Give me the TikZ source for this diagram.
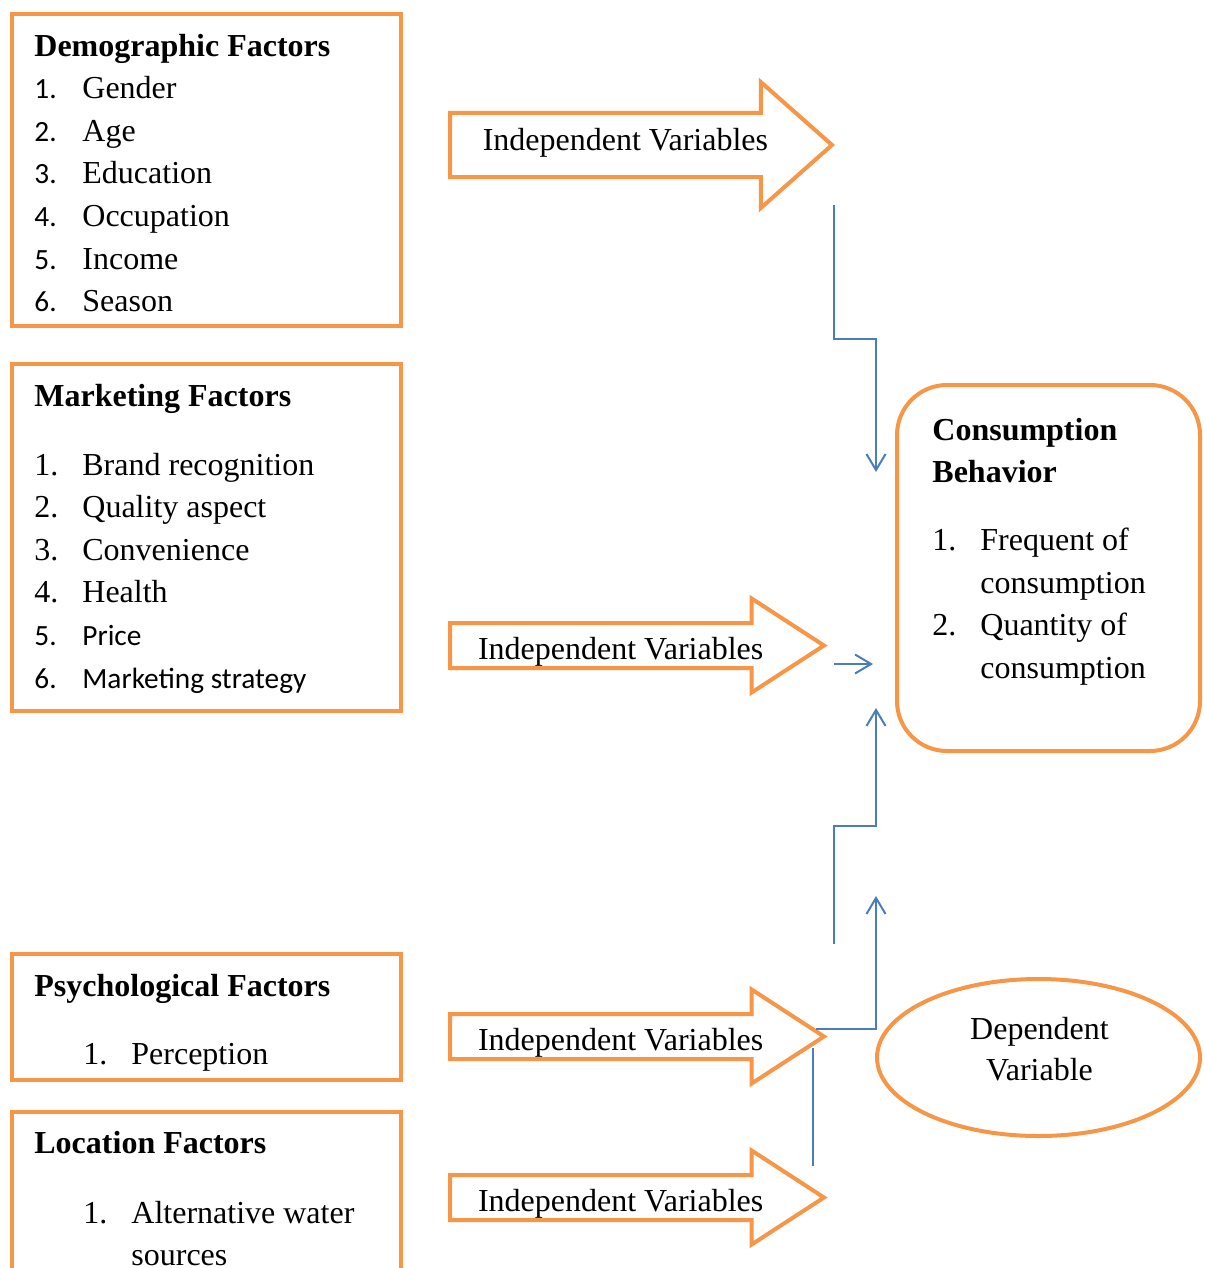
\documentclass[tikz,border=0pt]{standalone}
\usepackage{fontspec}
\setmainfont{Liberation Serif}
\newfontfamily\calibrifont{Carlito}
\usetikzlibrary{arrows.meta,
							calc,
							positioning,
							shapes.geometric,
							shapes.arrows}
\definecolor{boxline}{HTML}{F79646}
\definecolor{linkline}{HTML}{4A7EBB}
\newcommand\numsf[1]{\makebox[24pt][l]{\calibrifont\fontsize{14.67pt}{21.3pt}\selectfont #1}}
\newcommand\numrm[1]{\makebox[24pt][l]{#1}}
\newcommand\txtsf[1]{{\calibrifont\fontsize{14.67pt}{21.3pt}\selectfont #1}}

\begin{document}
\begin{tikzpicture}[x=0.5pt, y=-0.5pt,
		base/.style = {draw=boxline, line width=2pt, outer sep=0pt, inner sep=0pt},
	 factor/.style = {base, rectangle, minimum width=194.5pt, anchor=north west},
	outcome/.style = {base, rectangle, rounded corners=25pt, minimum width=151.5pt,
									 minimum height=183pt, anchor=north west},
	 depvar/.style = {base, ellipse, minimum width=161.5pt, minimum height=78.5pt},
		ivbig/.style = {base, single arrow, anchor=tip, minimum height=191pt,
									 inner ysep=15pt, single arrow head extend=15.5pt,
									 single arrow tip angle=83},
	ivsmall/.style = {base, single arrow, anchor=tip, minimum height=187pt,
									 inner ysep=10.25pt, single arrow head extend=12.25pt,
									 single arrow tip angle=66},
	 ivtext/.style = {font=\fontsize{16pt}{19pt}\selectfont},
	 dvtext/.style = {align=center, font=\fontsize{16pt}{20.5pt}\selectfont},
			txt/.style = {inner sep=0pt, align=left, font=\fontsize{16pt}{21.3pt}\selectfont},
		 link/.style = {draw=linkline, line width=1pt},
		 tip/.style = {-{Straight Barb[length=8pt,width=9.5pt]}}]

\useasboundingbox (0,0) rectangle (1204,1268);

%% factor boxes
\node [factor, minimum height=156pt]   (dem) at (12,14)   {};      % <-- demographic
\node [txt, below right=9.7pt and 11pt of dem.north west] (dem-txt)
	{\textbf{Demographic Factors}\\
	 \numsf{1.}Gender\\
	 \numsf{2.}Age\\
	 \numsf{3.}Education\\
	 \numsf{4.}Occupation\\
	 \numsf{5.}Income\\
	 \numsf{6.}Season};

\node [factor, minimum height=173.5pt] (mkt) at (12,364)  {};      % <-- marketing
\node [txt, below right=9.7pt and 11pt of mkt.north west] (mkt-txt)
	{\textbf{Marketing Factors}\\[13.2pt]
	 \numrm{1.}Brand recognition\\
	 \numrm{2.}Quality aspect\\
	 \numrm{3.}Convenience\\
	 \numrm{4.}Health\\
	 \numsf{5.}\txtsf{Price}\\
	 \numsf{6.}\txtsf{Marketing strategy}};

\node [factor, minimum height=63pt]    (psy) at (12,954)  {};      % <-- psychological
\node [txt, below right=9.7pt and 11pt of psy.north west] (psy-txt)
	{\textbf{Psychological Factors}\\[13pt]
	 \hspace*{24.5pt}\numrm{1.}Perception};

\node [factor, minimum height=90pt]    (loc) at (12,1112) {};      % <-- location
\node [txt, below right=9.5pt and 11pt of loc.north west] (loc-txt)
	{\textbf{Location Factors}\\[13.5pt]
	 \hspace*{24.5pt}\numrm{1.}Alternative water\\
	 \hspace*{48.5pt}sources};

%% independent variable arrows
\node [ivbig, label={[ivtext, xshift=1.25pt, yshift=1.2pt]center:Independent Variables}]
	(iv-1) at (832,145) {};
\node [ivsmall, label={[ivtext, xshift=0.5pt, yshift=-3pt]center:Independent Variables}]
	(iv-2) at (824,645.5) {};
\node [ivsmall, label={[ivtext, xshift=0.5pt, yshift=-3pt]center:Independent Variables}]
	(iv-3) at (824,1036.5) {};
\node [ivsmall, label={[ivtext, xshift=0.5pt, yshift=-3pt]center:Independent Variables}]
	(iv-4) at (824,1197.5) {};

%% outcome
\node [outcome] (cons) at (897,385) {};
\node [txt, below right=16.2pt and 17.5pt of cons.north west] (cons-txt)
	{\textbf{Consumption}\\
	 \textbf{Behavior}\\[12.7pt]
	 \numrm{1.}Frequent of\\
	 \hspace*{24pt}consumption\\
	 \numrm{2.}Quantity of\\
	 \hspace*{24pt}consumption};

\node [depvar, label={[dvtext, xshift=0.5pt, yshift=4pt]center:Dependent\\Variable}]
	(dep) at (1038.5,1057.5) {};

%% connectors
\coordinate (c-1)  at (834,205);
\coordinate (c-2)  at (876,472);
\coordinate (c-3)  at (834,664);
\coordinate (c-4)  at (873,664);
\coordinate (c-5)  at (834,944);
\coordinate (c-6)  at (876,708);
\coordinate (c-7)  at (816,1029);
\coordinate (c-8)  at (876,896);
\coordinate (c-9)  at (813,1048);
\coordinate (c-10) at (813,1166);

\draw [link, tip] (c-1) |- ($(c-1)!0.5!(c-2)$) -| (c-2);
\draw [link, tip] (c-3) -- (c-4);
\draw [link, tip] (c-5) |- ($(c-5)!0.5!(c-6)$) -| (c-6);
\draw [link, tip] (c-7) -| (c-8);
\draw [link]      (c-9) -- (c-10);
\end{tikzpicture}
\end{document}
